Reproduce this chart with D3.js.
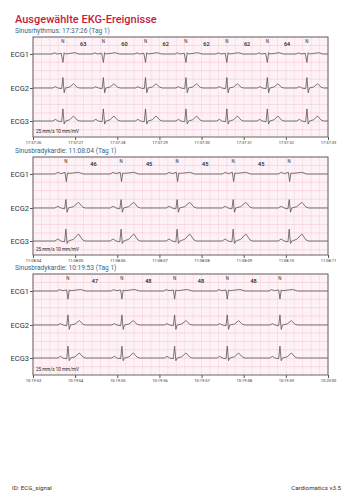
<!DOCTYPE html>
<html>
<head>
<meta charset="utf-8">
<script src="https://cdn.jsdelivr.net/npm/d3@7"></script>
<style>
  body { margin: 0; background: #fff; font-family: Roboto, "Noto Sans", sans-serif; }
</style>
</head>
<body>
<svg id="chart" width="354" height="500"></svg>
<script>
// Ableitungen
const leads = ["ECG1", "ECG2", "ECG3"];

// Abschnitt 1: Sinusrhythmus
const p1Title = "Sinusrhythmus: 17:37:26 (Tag 1)";
const p1Ticks = ["17:37:26", "17:37:27", "17:37:28", "17:37:29", "17:37:30", "17:37:31", "17:37:32", "17:37:33"];
const p1Beats = [0.71, 1.67, 2.67, 3.63, 4.60, 5.56, 6.50];
const p1Rates = [63, 60, 62, 62, 62, 64];
// Schlag-Vorlagen: [Sekunden relativ zur R-Zacke, mV]
const p1Ecg1 = [[-0.26, 0], [-0.2, 0.07], [-0.14, 0], [-0.04, 0.04], [0, -0.5], [0.03, 0.08], [0.06, 0], [0.18, 0.04], [0.28, 0.08], [0.38, 0]];
const p1Ecg2 = [[-0.24, 0], [-0.18, 0.08], [-0.12, 0], [-0.03, -0.04], [0, 0.62], [0.03, -0.28], [0.06, 0], [0.16, 0.06], [0.25, 0.25], [0.34, 0.04], [0.4, 0]];
const p1Ecg3 = [[-0.24, 0], [-0.18, 0.1], [-0.12, 0], [-0.03, -0.04], [0, 0.72], [0.03, -0.18], [0.06, 0], [0.16, 0.07], [0.25, 0.3], [0.34, 0.05], [0.4, 0]];

// Abschnitt 2: Sinusbradykardie
const p2Title = "Sinusbradykardie: 11:08:04 (Tag 1)";
const p2Ticks = ["11:08:04", "11:08:05", "11:08:06", "11:08:07", "11:08:08", "11:08:09", "11:08:10", "11:08:11"];
const p2Beats = [0.78, 2.09, 3.42, 4.75, 6.08];
const p2Rates = [46, 45, 45, 45];
const p2Ecg1 = [[-0.26, 0], [-0.19, 0.1], [-0.12, 0.02], [-0.02, 0.1], [0.01, -0.45], [0.04, 0.06], [0.08, 0.04], [0.2, 0.07], [0.3, 0.1], [0.42, 0]];
const p2Ecg2 = [[-0.26, 0], [-0.19, 0.1], [-0.12, 0], [-0.03, -0.05], [0, 0.5], [0.03, -0.25], [0.06, 0], [0.18, 0.08], [0.3, 0.34], [0.4, 0.05], [0.46, 0]];
const p2Ecg3 = [[-0.26, 0], [-0.19, 0.12], [-0.12, 0], [-0.03, -0.05], [0, 0.7], [0.03, -0.15], [0.06, 0], [0.18, 0.1], [0.3, 0.42], [0.4, 0.06], [0.46, 0]];

// Abschnitt 3: Sinusbradykardie
const p3Title = "Sinusbradykardie: 10:19:53 (Tag 1)";
const p3Ticks = ["10:19:53", "10:19:54", "10:19:55", "10:19:56", "10:19:57", "10:19:58", "10:19:59", "10:20:00"];
const p3Beats = [0.83, 2.11, 3.36, 4.61, 5.86];
const p3Rates = [47, 48, 48, 48];
const p3Ecg1 = [[-0.26, 0], [-0.2, 0.08], [-0.13, 0.02], [-0.03, 0.06], [0, -0.48], [0.03, 0.06], [0.07, 0.02], [0.2, 0.06], [0.3, 0.09], [0.42, 0]];
const p3Ecg2 = [[-0.24, 0], [-0.18, 0.08], [-0.12, 0], [-0.03, -0.04], [0, 0.6], [0.03, -0.26], [0.06, 0], [0.17, 0.06], [0.27, 0.26], [0.36, 0.04], [0.42, 0]];
const p3Ecg3 = [[-0.24, 0], [-0.18, 0.1], [-0.12, 0], [-0.03, -0.04], [0, 0.7], [0.03, -0.16], [0.06, 0], [0.17, 0.07], [0.27, 0.3], [0.36, 0.05], [0.42, 0]];

const panels = [
  { title: p1Title, ticks: p1Ticks, beats: p1Beats, rates: p1Rates, templates: [p1Ecg1, p1Ecg2, p1Ecg3], top: 37, h: 100 },
  { title: p2Title, ticks: p2Ticks, beats: p2Beats, rates: p2Rates, templates: [p2Ecg1, p2Ecg2, p2Ecg3], top: 157, h: 98 },
  { title: p3Title, ticks: p3Ticks, beats: p3Beats, rates: p3Rates, templates: [p3Ecg1, p3Ecg2, p3Ecg3], top: 274, h: 101 }
];

const svg = d3.select("#chart");
const left = 33, right = 328;
const pxPerMm = (right - left) / (7 * 25); // 25 mm/s
const pxPerMv = 10 * pxPerMm;               // 10 mm/mV
const leadOffsets = [17, 51, 84];

// Titel
svg.append("text")
  .attr("x", 15).attr("y", 23)
  .attr("fill", "#c41e3a")
  .style("font-size", "11px")
  .style("font-weight", "500")
  .text("Ausgewählte EKG-Ereignisse");

const x = d3.scaleLinear().domain([0, 7]).range([left, right]);

panels.forEach(p => {
  const g = svg.append("g");
  const top = p.top, panelH = p.h, bottom = top + panelH;

  // Untertitel
  svg.append("text")
    .attr("x", 15).attr("y", top - 4.5)
    .attr("fill", "#35648c")
    .style("font-size", "6.6px")
    .text(p.title);

  // Hintergrund und Raster
  g.append("rect")
    .attr("x", left).attr("y", top)
    .attr("width", right - left).attr("height", panelH)
    .attr("fill", "#fef8fa");

  const vLines = d3.range(0, 7 * 25 + 1);
  g.selectAll(".vgrid")
    .data(vLines)
    .enter().append("line")
    .attr("x1", d => left + d * pxPerMm).attr("x2", d => left + d * pxPerMm)
    .attr("y1", top).attr("y2", bottom)
    .attr("stroke", d => d % 5 === 0 ? "#f5cad6" : "#fcedf2")
    .attr("stroke-width", d => d % 5 === 0 ? 0.7 : 0.5);

  const hLines = d3.range(0, Math.floor(panelH / pxPerMm) + 1);
  g.selectAll(".hgrid")
    .data(hLines)
    .enter().append("line")
    .attr("x1", left).attr("x2", right)
    .attr("y1", d => top + d * pxPerMm).attr("y2", d => top + d * pxPerMm)
    .attr("stroke", d => d % 5 === 0 ? "#f5cad6" : "#fcedf2")
    .attr("stroke-width", d => d % 5 === 0 ? 0.7 : 0.5);

  // Kurven
  leads.forEach((lead, i) => {
    const base = top + leadOffsets[i];
    const y = d3.scaleLinear().domain([-1, 1]).range([base + pxPerMv, base - pxPerMv]);
    const pts = [[0, 0]];
    p.beats.forEach(b => p.templates[i].forEach(([dt, mv]) => pts.push([b + dt, mv])));
    pts.push([7, 0]);
    g.append("path")
      .datum(pts.filter(d => d[0] >= 0 && d[0] <= 7))
      .attr("fill", "none")
      .attr("stroke", "#555")
      .attr("stroke-width", 0.8)
      .attr("stroke-linejoin", "round")
      .attr("d", d3.line().x(d => x(d[0])).y(d => y(d[1])));
  });

  // Ableitungsachse
  const yLeads = d3.scaleOrdinal().domain(leads).range(leadOffsets.map(o => top + o));
  const yAxis = g.append("g")
    .attr("transform", `translate(${left},0)`)
    .call(d3.axisLeft(yLeads).tickSize(3).tickPadding(1));
  yAxis.select(".domain").remove();
  yAxis.selectAll("text").style("font-size", "7.5px").attr("fill", "#333").style("font-family", "Roboto, sans-serif");
  yAxis.selectAll("line").attr("stroke", "#555");

  // Zeitachse
  const xAxis = g.append("g")
    .attr("transform", `translate(0,${bottom})`)
    .call(d3.axisBottom(x).tickValues(d3.range(8)).tickFormat(i => p.ticks[i]).tickSize(3).tickPadding(1.5));
  xAxis.select(".domain").remove();
  xAxis.selectAll("text").style("font-size", "4px").attr("fill", "#333").style("font-family", "Roboto, sans-serif");
  xAxis.selectAll("line").attr("stroke", "#555");

  // Rahmen
  g.append("rect")
    .attr("x", left).attr("y", top)
    .attr("width", right - left).attr("height", panelH)
    .attr("fill", "none")
    .attr("stroke", "#666")
    .attr("stroke-width", 1);

  // Schlagmarker und Herzfrequenz
  g.selectAll(".beat-label")
    .data(p.beats)
    .enter().append("text")
    .attr("x", d => x(d)).attr("y", top + 6)
    .attr("text-anchor", "middle")
    .attr("fill", "#333")
    .style("font-size", "4.5px")
    .text("N");

  g.selectAll(".rate-label")
    .data(p.rates)
    .enter().append("text")
    .attr("x", (d, i) => x((p.beats[i] + p.beats[i + 1]) / 2)).attr("y", top + 9)
    .attr("text-anchor", "middle")
    .attr("fill", "#222")
    .style("font-size", "5.5px")
    .style("font-weight", "500")
    .text(d => d);

  // Kalibrierung
  g.append("text")
    .attr("x", left + 3).attr("y", bottom - 4)
    .attr("fill", "#222")
    .style("font-size", "4.6px")
    .text("25 mm/s 10 mm/mV");
});

// Fußzeile
svg.append("text")
  .attr("x", 12).attr("y", 490)
  .attr("fill", "#333")
  .style("font-size", "6.2px")
  .text("ID: ECG_signal");

svg.append("text")
  .attr("x", 341).attr("y", 490)
  .attr("text-anchor", "end")
  .attr("fill", "#333")
  .style("font-size", "6.2px")
  .text("Cardiomatics v3.5");
</script>
</body>
</html>
